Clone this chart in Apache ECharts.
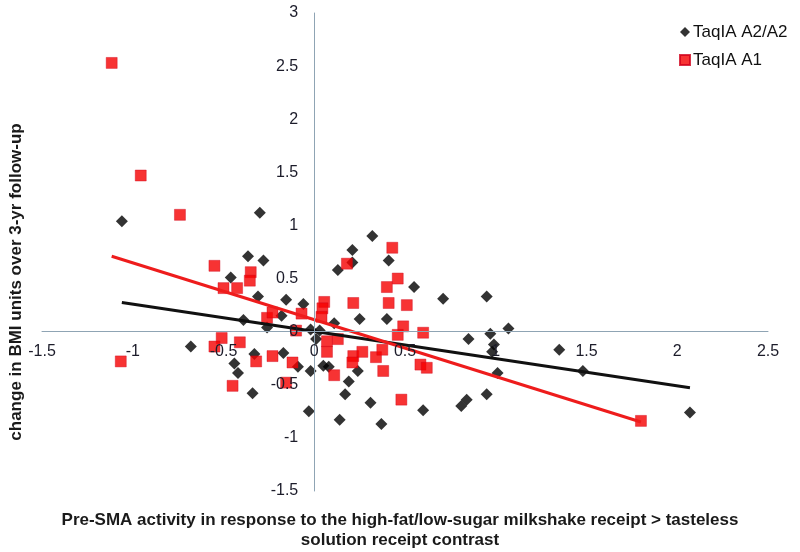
<!DOCTYPE html>
<html>
<head>
<meta charset="utf-8">
<script src="https://cdn.jsdelivr.net/npm/echarts@6/dist/echarts.min.js"></script>
<style>
html,body{margin:0;padding:0;background:#fff;}
#c{width:800px;height:552px;}
</style>
</head>
<body>
<div id="c"></div>
<script>
// Series names
const seriesNames = ['TaqIA A2/A2', 'TaqIA A1'];

// TaqIA A2/A2 (black diamonds): [x, y]
const a2a2Points = [
  [-1.06, 1.04], [-0.30, 1.12], [-0.68, -0.14], [-0.365, 0.71], [-0.28, 0.67],
  [-0.46, 0.51], [-0.31, 0.33], [-0.155, 0.30], [-0.06, 0.26], [-0.39, 0.11],
  [-0.26, 0.04], [-0.18, 0.15], [-0.44, -0.30], [-0.42, -0.39], [-0.34, -0.58],
  [-0.33, -0.21], [-0.17, -0.20], [-0.09, -0.33], [-0.02, -0.37], [-0.03, -0.75],
  [-0.02, 0.02], [0.03, 0.01], [0.01, -0.07], [0.05, -0.32], [0.08, -0.33],
  [0.32, 0.90], [0.21, 0.77], [0.13, 0.58], [0.21, 0.65], [0.41, 0.67],
  [0.55, 0.42], [0.71, 0.31], [0.25, 0.12], [0.40, 0.12], [0.11, 0.08],
  [0.19, -0.47], [0.17, -0.59], [0.24, -0.37], [0.31, -0.67], [0.14, -0.83],
  [0.37, -0.87], [0.60, -0.74], [0.95, 0.33], [0.85, -0.07], [0.97, -0.02],
  [0.99, -0.12], [0.98, -0.19], [1.07, 0.03], [1.35, -0.17], [1.01, -0.39],
  [1.48, -0.37], [0.95, -0.59], [0.84, -0.64], [0.81, -0.70], [2.07, -0.76]
];

// TaqIA A1 (red squares): [x, y]
const a1Points = [
  [-1.116, 2.53], [-0.956, 1.47], [-0.74, 1.10], [-1.066, -0.28], [-0.55, 0.62],
  [-0.35, 0.56], [-0.355, 0.48], [-0.50, 0.41], [-0.425, 0.41], [-0.26, 0.13],
  [-0.23, 0.18], [-0.07, 0.17], [-0.10, 0.01], [-0.51, -0.06], [-0.55, -0.14],
  [-0.41, -0.10], [-0.32, -0.28], [-0.23, -0.23], [-0.12, -0.29], [-0.155, -0.48],
  [-0.45, -0.51], [0.055, 0.28], [0.045, 0.22], [0.04, 0.14], [0.07, -0.09],
  [0.07, -0.19], [0.11, -0.41], [0.13, -0.07], [0.43, 0.79], [0.18, 0.64],
  [0.46, 0.50], [0.40, 0.42], [0.215, 0.27], [0.41, 0.27], [0.51, 0.25],
  [0.49, 0.05], [0.46, -0.03], [0.60, -0.01], [0.215, -0.23], [0.265, -0.19],
  [0.21, -0.29], [0.34, -0.24], [0.375, -0.17], [0.38, -0.37], [0.585, -0.31],
  [0.62, -0.34], [0.48, -0.64], [1.80, -0.84]
];

// Linear trend line end points
const a2a2Trend = [[-1.06, 0.274], [2.07, -0.528]];
const a1Trend = [[-1.116, 0.71], [1.80, -0.85]];

// Axis ranges
const xRange = { min: -1.5, max: 2.5, interval: 0.5 };
const yRange = { min: -1.5, max: 3, interval: 0.5 };

// Titles
const yTitle = 'change in BMI units over 3-yr follow-up';
const xTitleLines = ['Pre-SMA activity in response to the high-fat/low-sugar milkshake receipt > tasteless', 'solution receipt contrast'];

const FONT = 'Liberation Sans, Arial, sans-serif';
const axisColor = '#8fa4b4';

const W = 800, H = 552;
const grid = { left: 42, right: 32, top: 13, bottom: 61 };
const gridW = W - grid.left - grid.right;
const gridH = H - grid.top - grid.bottom;
// shift each axis so it crosses the other at zero
const yAxisOffset = -gridW * (0 - xRange.min) / (xRange.max - xRange.min);
const xAxisOffset = -gridH * (0 - yRange.min) / (yRange.max - yRange.min);

const chart = echarts.init(document.getElementById('c'));
chart.setOption({
  animation: false,
  backgroundColor: '#fff',
  grid: Object.assign({ containLabel: false }, grid),
  legend: {
    orient: 'vertical',
    left: 674,
    top: 17,
    itemWidth: 10,
    itemHeight: 10,
    itemGap: 8,
    textStyle: { fontFamily: FONT, fontSize: 17, color: '#111', lineHeight: 20, padding: [0, 0, 0, -2] },
    data: [
      { name: seriesNames[0], icon: 'diamond' },
      { name: seriesNames[1], icon: 'rect' }
    ]
  },
  xAxis: {
    type: 'value', position: 'bottom', offset: xAxisOffset, z: 10,
    min: xRange.min, max: xRange.max, interval: xRange.interval,
    axisLine: { onZero: false, lineStyle: { color: axisColor, width: 1 } },
    axisTick: { show: false },
    splitLine: { show: false },
    axisLabel: { margin: 12, fontFamily: FONT, fontSize: 16, color: '#1c1c2a' }
  },
  yAxis: {
    type: 'value', position: 'left', offset: yAxisOffset, z: 10,
    min: yRange.min, max: yRange.max, interval: yRange.interval,
    axisLine: { onZero: false, lineStyle: { color: axisColor, width: 1 } },
    axisTick: { show: false },
    splitLine: { show: false },
    axisLabel: { margin: 16, fontFamily: FONT, fontSize: 16, color: '#1c1c2a' }
  },
  series: [
    {
      name: seriesNames[0], type: 'scatter', symbol: 'diamond', symbolSize: 12,
      itemStyle: { color: '#000' }, data: a2a2Points, z: 2
    },
    {
      name: seriesNames[1], type: 'scatter', symbol: 'rect', symbolSize: 11,
      itemStyle: { color: '#f50000', borderColor: '#d0001a', borderWidth: 0.5 }, data: a1Points, z: 3
    },
    {
      name: 'trendA2', type: 'line', data: a2a2Trend, symbol: 'none', silent: true,
      lineStyle: { color: '#111', width: 3 }, z: 4
    },
    {
      name: 'trendA1', type: 'line', data: a1Trend, symbol: 'none', silent: true,
      lineStyle: { color: '#ee1c1c', width: 3 }, z: 4
    }
  ],
  graphic: [
    {
      type: 'text', x: 16, y: 282, rotation: Math.PI / 2,
      style: { text: yTitle, font: 'bold 17px ' + FONT, fill: '#1a1a1a', textAlign: 'center', textVerticalAlign: 'middle' }
    },
    {
      type: 'text', x: 400, y: 520,
      style: { text: xTitleLines[0], font: 'bold 17px ' + FONT, fill: '#1a1a1a', textAlign: 'center', textVerticalAlign: 'middle' }
    },
    {
      type: 'text', x: 400, y: 540,
      style: { text: xTitleLines[1], font: 'bold 17px ' + FONT, fill: '#1a1a1a', textAlign: 'center', textVerticalAlign: 'middle' }
    }
  ]
});
</script>
</body>
</html>
